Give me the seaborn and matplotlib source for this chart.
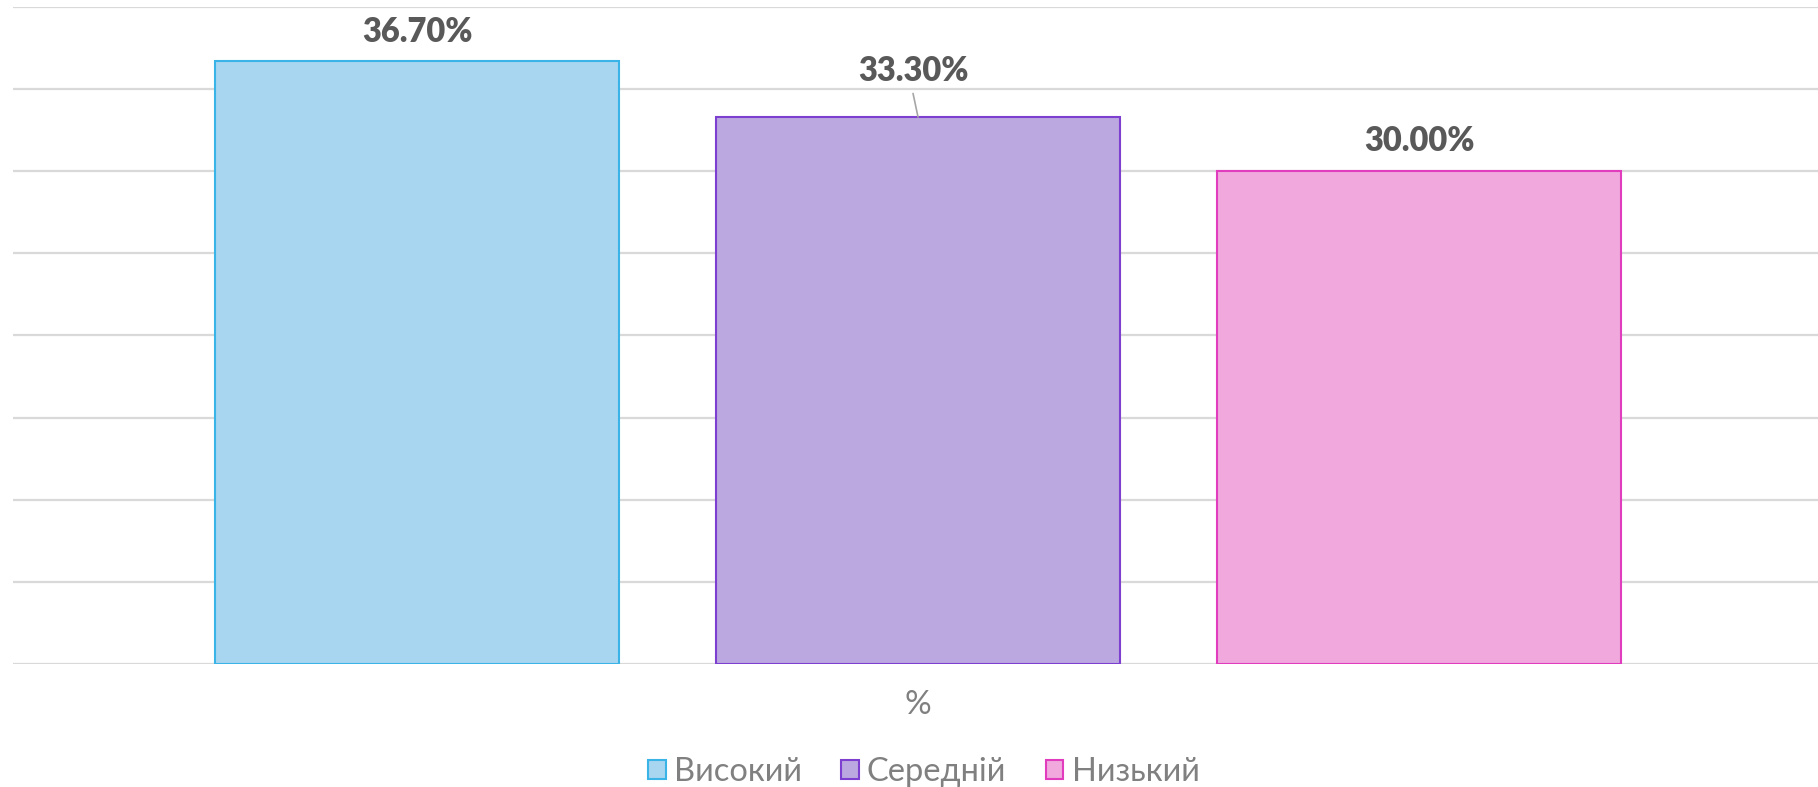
import matplotlib.pyplot as plt
import seaborn as sns
import pandas as pd
from matplotlib.patches import Patch

# data
category = "%"
levels = ["Високий", "Середній", "Низький"]
values = [0.367, 0.333, 0.300]
labels = ["36.70%", "33.30%", "30.00%"]

fills = ["#A8D5F0", "#BBA8E0", "#F0A8DD"]
edges = ["#3AB4E6", "#7D3FCF", "#E23CBE"]

df = pd.DataFrame({"cat": [category] * len(levels), "level": levels, "value": values})

sns.set_theme(style="white")
plt.rcParams["font.family"] = ["Lato", "Noto Sans", "DejaVu Sans"]

fig = plt.figure(figsize=(18.18, 7.87), dpi=100)
ax = fig.add_axes([0.00715, 0.1563, 0.99285, 0.8348])

sns.barplot(data=df, x="cat", y="value", hue="level", hue_order=levels,
            palette=fills, width=0.8, gap=0.193, legend=False, ax=ax,
            saturation=1)

for cont, ec in zip(ax.containers, edges):
    for bar in cont:
        bar.set_edgecolor(ec)
        bar.set_linewidth(1.5)
        bar.set_zorder(3)

ax.set_ylim(0, 0.40)
ax.set_yticks([i * 0.05 for i in range(9)])
ax.set_xlim(-0.4817, 0.479)
ax.yaxis.grid(True, color="#D9D9D9", linewidth=1.6)
ax.set_axisbelow(True)
ax.tick_params(left=False, bottom=False, labelleft=False, labelbottom=False)
for s in ax.spines.values():
    s.set_visible(False)
ax.set_ylabel("")
ax.set_xlabel("")

# value labels
offsets = [(0, 21), (-3.6, 33), (0, 21.6)]
for cont, lab, val, off in zip(ax.containers, labels, values, offsets):
    bar = cont[0]
    xc = bar.get_x() + bar.get_width() / 2
    ax.annotate(lab, xy=(xc, val), xytext=off, textcoords="offset points",
                ha="center", va="center", fontsize=23.5, fontweight="heavy",
                color="#595959")

# leader line for the middle label
bar = ax.containers[1][0]
xc = bar.get_x() + bar.get_width() / 2
ax.annotate("", xy=(xc, values[1]), xytext=(-3.6, 17), textcoords="offset points",
            arrowprops=dict(arrowstyle="-", color="#A6A6A6", lw=1.2,
                            shrinkA=0, shrinkB=0))

fig.text(0.505, 1 - 705 / 787, "%", ha="center", va="center",
         fontsize=24, color="#808080")

handles = [Patch(facecolor=f, edgecolor=e, linewidth=1.5) for f, e in zip(fills, edges)]
fig.legend(handles, levels, loc="center", bbox_to_anchor=(0.508, 0.019), ncol=3,
           frameon=False, fontsize=23.5, labelcolor="#808080",
           handlelength=0.55, handleheight=0.55, handletextpad=0.25,
           columnspacing=1.2)

fig.savefig("out.png", dpi=100)
